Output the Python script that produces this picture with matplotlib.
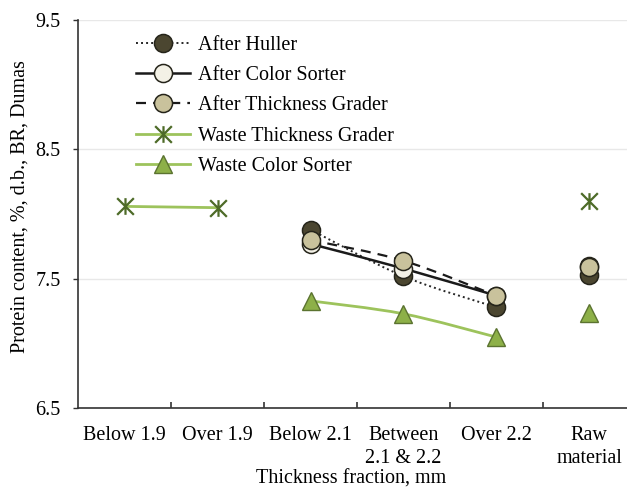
import numpy as np
import matplotlib
matplotlib.use('Agg')
import matplotlib.pyplot as plt
from matplotlib.path import Path
from matplotlib.patches import PathPatch
from matplotlib.lines import Line2D

nan = np.nan
categories = ["Below 1.9", "Over 1.9", "Below 2.1", "Between\n2.1 & 2.2", "Over 2.2", "Raw\nmaterial"]
after_huller = [nan, nan, 7.88, 7.52, 7.28, 7.53]
after_color_sorter = [nan, nan, 7.77, 7.58, 7.37, 7.60]
after_thickness_grader = [nan, nan, 7.80, 7.64, 7.37, 7.59]
waste_thickness_grader = [8.06, 8.05, nan, nan, nan, 8.10]
waste_color_sorter = [nan, nan, 7.33, 7.23, 7.05, 7.24]
y_ticks = [6.5, 7.5, 8.5, 9.5]

plt.rcParams['font.family'] = ['Liberation Serif', 'DejaVu Serif']
FS = 14.5

fig = plt.figure(figsize=(6.27, 4.88), dpi=100)
W, H = 627, 488
ax = fig.add_axes([78.3 / W, 1 - 408.3 / H, (635.7 - 78.3) / W, (408.3 - 20) / H])

asterisk = Path([(0, -1), (0, 1), (-1, -1), (1, 1), (-1, 1), (1, -1)],
                [Path.MOVETO, Path.LINETO, Path.MOVETO, Path.LINETO, Path.MOVETO, Path.LINETO])

series = [
    ("After Huller", after_huller,
     dict(color='#262626', lw=1.4, ls=(0, (1, 1.6))),
     dict(marker='o', ms=13, mfc='#4b4630', mec='#25241a', mew=1.1)),
    ("After Color Sorter", after_color_sorter,
     dict(color='#1a1a1a', lw=1.8, ls='-'),
     dict(marker='o', ms=13, mfc='#f3f1e6', mec='#25241a', mew=1.1)),
    ("After Thickness Grader", after_thickness_grader,
     dict(color='#1a1a1a', lw=1.6, ls=(0, (4.5, 3.2))),
     dict(marker='o', ms=13, mfc='#c9c29c', mec='#25241a', mew=1.1)),
    ("Waste Thickness Grader", waste_thickness_grader,
     dict(color='#9dc35c', lw=2.0, ls='-'),
     dict(marker=asterisk, ms=12, mfc='none', mec='#4e6b28', mew=1.6)),
    ("Waste Color Sorter", waste_color_sorter,
     dict(color='#9dc35c', lw=2.0, ls='-'),
     dict(marker='^', ms=13, mfc='#8db048', mec='#5b7330', mew=1.0)),
]


def smooth_path(xs, ys):
    pts = np.column_stack([xs, ys])
    n = len(pts)
    verts = [pts[0]]
    codes = [Path.MOVETO]
    for i in range(n - 1):
        p_prev = pts[i - 1] if i > 0 else pts[i]
        p_next2 = pts[i + 2] if i + 2 < n else pts[i + 1]
        c1 = pts[i] + (pts[i + 1] - p_prev) / 6.0
        c2 = pts[i + 1] - (p_next2 - pts[i]) / 6.0
        verts += [c1, c2, pts[i + 1]]
        codes += [Path.CURVE4] * 3
    return Path(verts, codes)


x = np.arange(len(categories))
n_fr = len(categories) - 1  # raw material not connected
handles = []
for k, (name, vals, lstyle, mstyle) in enumerate(series):
    v = np.array(vals, dtype=float)
    seg = []
    segs = []
    for i in range(n_fr):
        if np.isnan(v[i]):
            if seg:
                segs.append(seg)
            seg = []
        else:
            seg.append(i)
    if seg:
        segs.append(seg)
    for s in segs:
        if len(s) > 1:
            p = smooth_path(x[s].astype(float), v[s])
            ax.add_patch(PathPatch(p, fill=False, edgecolor=lstyle['color'], lw=lstyle['lw'],
                                   linestyle=lstyle['ls'], zorder=2 + 2 * k, capstyle='butt'))
    ax.plot(x, v, linestyle='none', zorder=3 + 2 * k, **mstyle)
    handles.append(Line2D([], [], color=lstyle['color'], lw=lstyle['lw'], ls=lstyle['ls'],
                          label=name, **mstyle))

ax.set_xlim(-0.5, len(categories) - 0.5)
ax.set_ylim(6.5, 9.5)
ax.set_yticks(y_ticks)
ax.set_yticklabels([f"{t:.1f}" for t in y_ticks])
ax.set_xticks(x)
ax.set_xticklabels(categories, linespacing=1.3)
ax.set_xticks(np.arange(0.5, len(categories) - 0.5, 1.0), minor=True)
ax.tick_params(axis='x', which='major', length=0, pad=12.5, labelsize=FS)
ax.tick_params(axis='x', which='minor', direction='in', length=4.2, width=1.2, color='#333333')
ax.tick_params(axis='y', direction='out', length=3.8, width=1.0, pad=9, labelsize=FS, color='#333333')
ax.yaxis.grid(True, color='#e8e8e8', lw=1.0)
ax.set_axisbelow(True)
for sp in ['top', 'right']:
    ax.spines[sp].set_visible(False)
for sp in ['left', 'bottom']:
    ax.spines[sp].set_color('#333333')
    ax.spines[sp].set_linewidth(1.2)

fig.text(20 / W, 1 - 207 / H, "Protein content, %, d.b., BR, Dumas", rotation=90,
         ha='center', va='center', fontsize=FS)
fig.text(351 / W, 1 - 470 / H, "Thickness fraction, mm", ha='center', va='top', fontsize=FS)

fig.legend(handles=handles, loc='upper left', bbox_to_anchor=(136 / W, 1 - 36 / H),
           bbox_transform=fig.transFigure, frameon=False, fontsize=FS, borderpad=0,
           borderaxespad=0, handlelength=2.7, handletextpad=0.4, labelspacing=0.55)

fig.savefig('out.png', dpi=100)
